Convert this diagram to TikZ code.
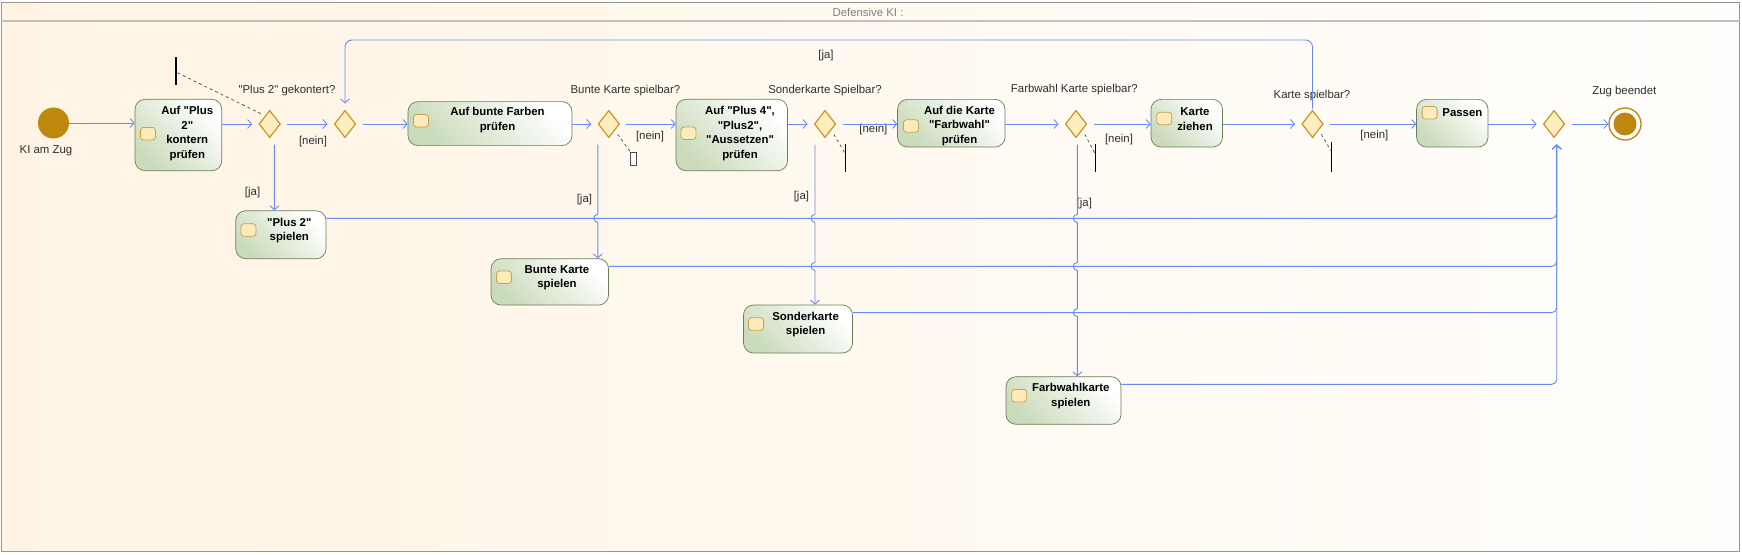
\documentclass[tikz,border=0pt]{standalone}
\usepackage{fontspec}
\setmainfont{Liberation Sans}[Ligatures=TeXOff]
\usepackage{tikz}
\usetikzlibrary{calc,shapes.geometric,arrows.meta}

\definecolor{flowblue}{RGB}{105,138,246}
\definecolor{actgreen}{RGB}{202,219,187}
\definecolor{actborder}{RGB}{108,124,86}
\definecolor{iconfill}{RGB}{253,236,186}
\definecolor{iconborder}{RGB}{204,160,72}
\definecolor{decfill}{RGB}{254,237,190}
\definecolor{decborder}{RGB}{200,150,42}
\definecolor{gold}{RGB}{190,135,14}
\definecolor{bgleft}{RGB}{255,244,228}
\definecolor{bgright}{RGB}{255,254,252}
\definecolor{framegray}{RGB}{150,150,150}
\definecolor{labelgray}{RGB}{45,45,45}

\tikzset{
    flow/.style={draw=flowblue, line width=0.9pt, -{Straight Barb[length=4pt,width=9pt]}},
    act/.style={draw=actborder, line width=0.7pt, rounded corners=10pt, left color=actgreen, right color=white, shading angle=135, inner sep=0pt},
    acttxt/.style={font=\bfseries\fontsize{11.4}{14.5}\selectfont, align=center, inner sep=0pt},
    icon/.style={draw=iconborder, fill=iconfill, rounded corners=3pt, minimum width=15pt, minimum height=12.5pt, inner sep=0pt, line width=0.8pt},
    decision/.style={diamond, draw=decborder, fill=decfill, line width=1.2pt, minimum width=25pt, minimum height=31pt, inner sep=0pt, outer sep=5pt},
    lbl/.style={font=\fontsize{11.4}{13}\selectfont, text=labelgray, inner sep=0pt},
    anchorline/.style={dashed, black!80, line width=0.6pt},
    anchortick/.style={black, line width=1.5pt},
    hop/.style={start angle=270, end angle=90, radius=4}
}

\begin{document}
\begin{tikzpicture}[x=1pt, y=-1pt]
    \useasboundingbox (0, 0) rectangle (1742, 554);
    \fill[left color=bgleft, right color=bgright] (1, 2) rectangle (1739.5, 551);
    \draw[framegray, line width=0.8pt] (1, 2) rectangle (1739.5, 551);
    \draw[framegray!60, line width=1.2pt] (1, 21) -- (1739.5, 21);
    \node[lbl, text=gray](title) at (868, 12.5) {Defensive KI :};

    \node[circle, fill=gold, minimum size=31pt, inner sep=0pt](start) at (53.5, 123) {};
    \node[lbl](lstart) at (46, 151) {KI am Zug};

    \node[act, minimum width=86.7, minimum height=71.4](b1) at (178.4, 135) {};
    \node[icon](b1i) at (148, 133.7) {};
    \node[acttxt](b1t) at (187.3, 133.4) {Auf "Plus\\2"\\kontern\\prüfen};

    \node[decision](d1) at (269.7, 124) {};
    \node[lbl](lq1) at (287, 91) {"Plus 2" gekontert?};
    \node[lbl](ln1) at (313, 142) {[nein]};
    \node[lbl](lj1) at (252.6, 192.7) {[ja]};

    \node[decision](d2) at (345, 124) {};

    \node[act, minimum width=164, minimum height=44](b3) at (490, 123.6) {};
    \node[icon](b3i) at (421, 120.7) {};
    \node[acttxt](b3t) at (497.5, 120.3) {Auf bunte Farben\\prüfen};

    \node[decision](d3) at (608.8, 124) {};
    \node[lbl](lq3) at (625.4, 91) {Bunte Karte spielbar?};
    \node[lbl](ln3) at (650, 137) {[nein]};
    \node[lbl](lj3) at (584.4, 199.5) {[ja]};

    \node[act, minimum width=111.5, minimum height=71.4](b4) at (731.8, 135) {};
    \node[icon](b4i) at (688.5, 133.3) {};
    \node[acttxt](b4t) at (740, 133.4) {Auf "Plus 4",\\"Plus2",\\"Aussetzen"\\prüfen};

    \node[decision](d4) at (825, 124) {};
    \node[lbl](lq4) at (825, 91) {Sonderkarte Spielbar?};
    \node[lbl](ln4) at (873.4, 130) {[nein]};
    \node[lbl](lj4) at (801.4, 196.7) {[ja]};

    \node[act, minimum width=107.5, minimum height=47.7](b5) at (951.3, 123.2) {};
    \node[icon](b5i) at (911, 126) {};
    \node[acttxt](b5t) at (959.5, 125.7) {Auf die Karte\\"Farbwahl"\\prüfen};

    \node[decision](d5) at (1076, 124) {};
    \node[lbl](lq5) at (1074.3, 89.5) {Farbwahl Karte spielbar?};
    \node[lbl](ln5) at (1119, 140) {[nein]};
    \node[lbl](lj5) at (1084.3, 203.5) {[ja]};

    \node[act, minimum width=71.5, minimum height=47.7](b6) at (1186.8, 123.2) {};
    \node[icon](b6i) at (1164.3, 118.5) {};
    \node[acttxt](b6t) at (1195, 118.9) {Karte\\ziehen};

    \node[decision](d6) at (1312.5, 124) {};
    \node[lbl](lq6) at (1312, 96) {Karte spielbar?};
    \node[lbl](ln6) at (1374.4, 135.5) {[nein]};
    \node[lbl](lj6) at (826, 56) {[ja]};
    \coordinate (loop) at (826, 40);

    \node[act, minimum width=71.5, minimum height=47.7](b7) at (1452.3, 123.2) {};
    \node[icon](b7i) at (1429.6, 112.7) {};
    \node[acttxt](b7t) at (1462.4, 112.7) {Passen};

    \node[decision](d7) at (1554, 124) {};

    \node[circle, draw=gold, fill=white, line width=1.3pt, minimum size=32pt, inner sep=0pt,
        path picture={\fill[gold] (path picture bounding box.center) circle (11.5pt);}](end) at (1625, 124) {};
    \node[lbl](lend) at (1624.3, 92) {Zug beendet};

    \node[act, minimum width=90.3, minimum height=48](p2sp) at (280.9, 234.7) {};
    \node[icon](p2spi) at (248.5, 230) {};
    \node[acttxt](p2spt) at (289.3, 230.3) {"Plus 2"\\spielen};

    \node[act, minimum width=117.5, minimum height=46.3](bsp) at (549.8, 281.9) {};
    \node[icon](bspi) at (504, 277.3) {};
    \node[acttxt](bspt) at (557, 277.7) {Bunte Karte\\spielen};

    \node[act, minimum width=109, minimum height=48](ssp) at (798, 329) {};
    \node[icon](sspi) at (756, 324) {};
    \node[acttxt](sspt) at (805.6, 324.3) {Sonderkarte\\spielen};

    \node[act, minimum width=115, minimum height=47.6](fsp) at (1063.5, 400.5) {};
    \node[icon](fspi) at (1019.2, 395.7) {};
    \node[acttxt](fspt) at (1070.8, 395.8) {Farbwahlkarte\\spielen};

    \draw[flow] (start.east) -- (start.east -| b1.west);
    \draw[flow] (d1.west -| b1.east) -- (d1.west);
    \draw[flow] (d1.east) -- (d2.west);
    \draw[flow] (d2.east) -- (d2.east -| b3.west);
    \draw[flow] (d3.west -| b3.east) -- (d3.west);
    \draw[flow] (d3.east) -- (d3.east -| b4.west);
    \draw[flow] (d4.west -| b4.east) -- (d4.west);
    \draw[flow] (d4.east) -- (d4.east -| b5.west);
    \draw[flow] (d5.west -| b5.east) -- (d5.west);
    \draw[flow] (d5.east) -- (d5.east -| b6.west);
    \draw[flow] (d6.west -| b6.east) -- (d6.west);
    \draw[flow] (d6.east) -- (d6.east -| b7.west);
    \draw[flow] (d7.west -| b7.east) -- (d7.west);
    \draw[flow] (d7.east) -- (end.west);

    \draw[flow, rounded corners=7pt] ([yshift=-5pt]d6.north) -- (d6.north |- loop) -- (d2.north |- loop) -- (d2.north);

    \draw[flow] ([xshift=4.6pt]d1.south) -- ([xshift=-6.5pt]p2sp.north);
    \draw[flow] ([xshift=-11pt]d3.south) -- ($(d3.center |- p2sp.north)+(-11, 4)$) arc[hop]
        -- ([xshift=48pt]bsp.north);
    \draw[flow] ([xshift=-10pt]d4.south) -- ($(d4.center |- p2sp.north)+(-10, 4)$) arc[hop]
        -- ($(d4.center |- bsp.north)+(-10, 4)$) arc[hop] -- ([xshift=17pt]ssp.north);
    \draw[flow] ([xshift=1.3pt]d5.south) -- ($(d5.center |- p2sp.north)+(1.3, 4)$) arc[hop]
        -- ($(d5.center |- bsp.north)+(1.3, 4)$) arc[hop]
        -- ($(d5.center |- ssp.north)+(1.3, 4)$) arc[hop] -- ([xshift=13.8pt]fsp.north);

    \draw[flow, rounded corners=5pt] ([yshift=-8pt]p2sp.north east) -| ([xshift=2.7pt]d7.south);
    \draw[flow, rounded corners=5pt] ([yshift=-8pt]bsp.north east) -| ([xshift=2.7pt]d7.south);
    \draw[flow, rounded corners=5pt] ([yshift=-8pt]ssp.north east) -| ([xshift=2.7pt]d7.south);
    \draw[flow, rounded corners=5pt] ([yshift=-8pt]fsp.north east) -| ([xshift=2.7pt]d7.south);

    \coordinate (n1) at (176, 72);
    \draw[anchorline] (d1.north west) -- (n1);
    \draw[anchortick] ([yshift=15pt]n1) -- ([yshift=-13pt]n1);

    \node[draw=black!70, fill=white, line width=0.6pt, minimum width=6pt, minimum height=13pt, inner sep=0pt](n3) at (633.5, 158.3) {};
    \draw[anchorline] (d3.south east) -- (n3.north west);

    \coordinate (n4) at (845.5, 154);
    \draw[anchorline] (d4.south east) -- (n4);
    \draw[anchortick] ([yshift=10.5pt]n4) -- ([yshift=-17.5pt]n4);

    \coordinate (n5) at (1095.3, 154);
    \draw[anchorline] (d5.south east) -- (n5);
    \draw[anchortick] ([yshift=10.5pt]n5) -- ([yshift=-17.5pt]n5);

    \coordinate (n6) at (1331.7, 152);
    \draw[anchorline] (d6.south east) -- (n6);
    \draw[anchortick] ([yshift=10pt]n6) -- ([yshift=-19.7pt]n6);
\end{tikzpicture}
\end{document}
